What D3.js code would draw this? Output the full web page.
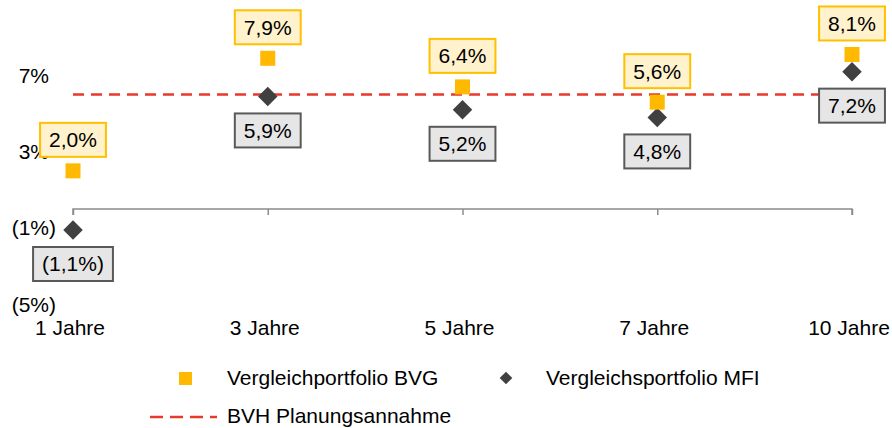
<!DOCTYPE html>
<html>
<head>
<meta charset="utf-8">
<script src="https://cdn.jsdelivr.net/npm/d3@7"></script>
<style>
  body { margin: 0; background: #fff; }
  text { font-family: "Liberation Sans", Arial, sans-serif; font-size: 21px; fill: #000; }
</style>
</head>
<body>
<div id="chart-area"></div>
<script>
const categories = ["1 Jahre", "3 Jahre", "5 Jahre", "7 Jahre", "10 Jahre"]
const bvg = [2.0, 7.9, 6.4, 5.6, 8.1]
const mfi = [-1.1, 5.9, 5.2, 4.8, 7.2]
const planung = 6
const yTicks = [-5, -1, 3, 7]

const WIDTH = 892
const HEIGHT = 428

const svg = d3.select("#chart-area")
  .append("svg")
    .attr("width", WIDTH)
    .attr("height", HEIGHT)

// x: point scale across the categories
const x = d3.scalePoint()
  .domain(categories)
  .range([73, 852])

// y
const y = d3.scaleLinear()
  .domain([-5, 9])
  .range([304.4, 37.3])

const fmt = v => {
  const s = Math.abs(v).toFixed(1).replace(".", ",") + "%"
  return v < 0 ? "(" + s + ")" : s
}

// y tick labels, no axis line
const yAxis = svg.append("g")
  .attr("transform", "translate(62, 0)")
  .call(d3.axisLeft(y).tickValues(yTicks).tickSize(0).tickPadding(6)
    .tickFormat(d => d < 0 ? "(" + Math.abs(d) + "%)" : d + "%"))
yAxis.select(".domain").remove()
yAxis.selectAll("text")
  .attr("font-size", null).attr("font-family", null)
  .attr("dx", d => d < 0 ? 0 : -7)

// x axis at zero with ticks going down
const xAxis = svg.append("g")
  .attr("transform", `translate(0, ${y(0)})`)
  .call(d3.axisBottom(x).tickSize(6).tickSizeOuter(0).tickFormat(""))
xAxis.select(".domain").attr("d", `M${x(categories[0])},6V0H${x(categories[4])}V6`)
xAxis.selectAll("path, line").attr("stroke", "#8c8c8c").attr("stroke-width", 1.5)

// category labels at the bottom
svg.append("g").selectAll("text")
  .data(categories)
  .enter().append("text")
    .attr("x", d => x(d) - 3)
    .attr("y", 335)
    .attr("text-anchor", "middle")
    .text(d => d)

// planning assumption
svg.append("line")
  .attr("x1", x(categories[0])).attr("x2", x(categories[4]))
  .attr("y1", y(planung)).attr("y2", y(planung))
  .attr("stroke", "#e8392b")
  .attr("stroke-width", 2.5)
  .attr("stroke-dasharray", "11,7")

const diamond = d3.symbol().type(d3.symbolSquare)

// MFI diamonds
svg.append("g").selectAll("path")
  .data(mfi)
  .enter().append("path")
    .attr("d", d3.symbol().type(d3.symbolSquare).size(190))
    .attr("transform", (d, i) => `translate(${x(categories[i])}, ${y(d)}) rotate(45)`)
    .attr("fill", "#404040")

// BVG squares
svg.append("g").selectAll("rect")
  .data(bvg)
  .enter().append("rect")
    .attr("x", (d, i) => x(categories[i]) - 7.5)
    .attr("y", d => y(d) - 7.5)
    .attr("width", 15)
    .attr("height", 15)
    .attr("fill", "#ffb900")

// labels with boxes
function labels(data, dy, fill, stroke) {
  const g = svg.append("g").selectAll("g")
    .data(data)
    .enter().append("g")
      .attr("transform", (d, i) => `translate(${x(categories[i])}, ${y(d) + dy})`)
  const rects = g.append("rect")
    .attr("fill", fill)
    .attr("stroke", stroke)
    .attr("stroke-width", 2)
  const texts = g.append("text")
    .attr("text-anchor", "middle")
    .attr("dy", "0.35em")
    .text(d => fmt(d))
  texts.each(function (d, i) {
    const w = this.getComputedTextLength() + 18
    d3.select(rects.nodes()[i])
      .attr("x", -w / 2).attr("y", -17)
      .attr("width", w).attr("height", 34)
  })
}
labels(bvg, -31, "#fff2cc", "#ffc000")
labels(mfi, 34, "#e7e6e6", "#595959")

// legend
const legend = svg.append("g")
legend.append("rect")
  .attr("x", 179).attr("y", 372).attr("width", 13).attr("height", 13)
  .attr("fill", "#ffb900")
legend.append("text").attr("x", 227).attr("y", 385).text("Vergleichportfolio BVG")
legend.append("path")
  .attr("d", d3.symbol().type(d3.symbolSquare).size(80))
  .attr("transform", "translate(506, 378) rotate(45)")
  .attr("fill", "#404040")
legend.append("text").attr("x", 546).attr("y", 385).text("Vergleichsportfolio MFI")
legend.append("line")
  .attr("x1", 150).attr("x2", 217).attr("y1", 417).attr("y2", 417)
  .attr("stroke", "#e8392b").attr("stroke-width", 2.5).attr("stroke-dasharray", "13,7")
legend.append("text").attr("x", 227).attr("y", 423).text("BVH Planungsannahme")
</script>
</body>
</html>
